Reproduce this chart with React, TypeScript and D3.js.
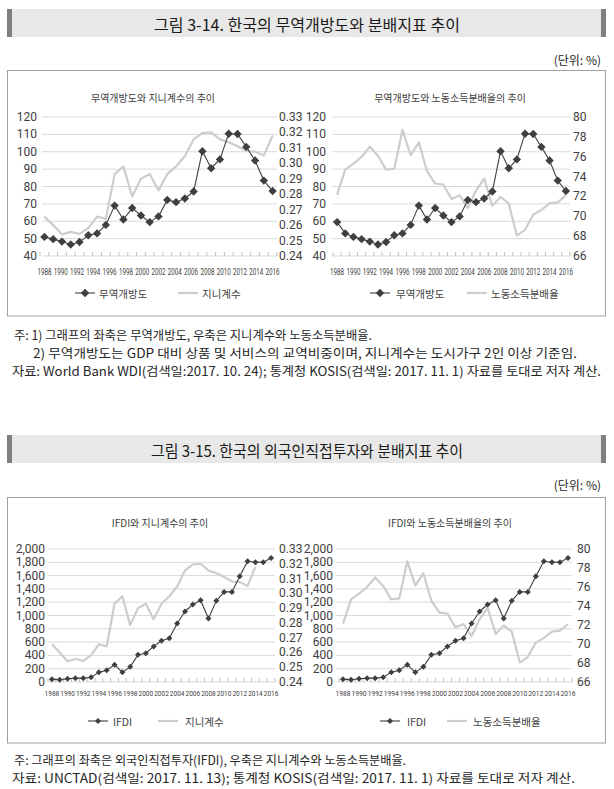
import React from "react";
import * as d3 from "d3";

// ---------- data ----------
const years = ["1988","1989","1990","1991","1992","1993","1994","1995","1996","1997","1998","1999","2000","2001","2002","2003","2004","2005","2006","2007","2008","2009","2010","2011","2012","2013","2014","2015","2016"];
const xTickLabels = ["1988","1990","1992","1994","1996","1998","2000","2002","2004","2006","2008","2010","2012","2014","2016"];

// 무역개방도 (1988-2016)
const tradeOpenness = [59.5, 53.0, 51.0, 49.7, 48.3, 46.6, 48.1, 51.9, 53.0, 57.9, 69.0, 61.0, 67.6, 63.3, 59.5, 62.8, 72.3, 71.0, 73.1, 77.1, 100.3, 90.5, 95.6, 110.4, 110.2, 102.8, 95.0, 83.4, 77.4];
// 무역개방도 as drawn in the left panel (1990-2016)
const tradeOpennessLeft = [51.0, 49.7, 48.3, 46.6, 48.1, 51.9, 53.0, 57.9, 69.0, 61.0, 67.6, 63.3, 59.5, 62.8, 72.3, 71.0, 73.1, 77.1, 100.3, 90.5, 95.6, 110.4, 110.2, 102.8, 95.0, 83.4, 77.4];
// 지니계수 (27 points)
const giniCoefficient = [0.2655, 0.2600, 0.2540, 0.2556, 0.2543, 0.2580, 0.2655, 0.2640, 0.2930, 0.2980, 0.2785, 0.2900, 0.2930, 0.2825, 0.2930, 0.2980, 0.3046, 0.3155, 0.3195, 0.3200, 0.3155, 0.3137, 0.3110, 0.3080, 0.3076, 0.3050, 0.3180];
// 노동소득분배율 (1988-2016)
const laborIncomeShare = [72.15, 74.7, 75.3, 76.0, 77.0, 76.1, 74.7, 74.8, 78.7, 76.15, 77.45, 74.55, 73.3, 73.2, 71.75, 72.1, 70.85, 72.6, 73.8, 71.05, 71.95, 71.3, 68.05, 68.65, 70.15, 70.65, 71.3, 71.4, 72.1];
// IFDI (1988-2016)
const ifdi = [40, 35, 48, 58, 58, 72, 145, 178, 260, 145, 228, 410, 432, 535, 620, 658, 880, 1060, 1165, 1230, 955, 1220, 1355, 1355, 1590, 1815, 1800, 1802, 1865];

const tradeTicks = [40, 50, 60, 70, 80, 90, 100, 110, 120];
const ifdiTicks = [0, 200, 400, 600, 800, 1000, 1200, 1400, 1600, 1800, 2000];
const giniTicks = [0.24, 0.25, 0.26, 0.27, 0.28, 0.29, 0.30, 0.31, 0.32, 0.33];
const laborTicks = [66, 68, 70, 72, 74, 76, 78, 80];

const NUM_FONT = "'Liberation Sans Narrow', 'Arial Narrow', 'Roboto', sans-serif";
const KR_FONT = "'Noto Sans CJK KR', 'Noto Sans', sans-serif";
const DARK = "#3f3f3f";
const LIGHT = "#cdcdcd";
const GRID = "#d9d9d9";
const LABEL = "#404040";

type PanelCfg = {
  x0: number; x1: number; gridX0: number; yTop: number; yBot: number;
  nCats: number;
  leftTicks: number[]; leftFmt: (v: number) => string;
  rightTicks: number[]; rightFmt: (v: number) => string;
  primary: number[]; secondary: number[];
  leftLabelX: number; rightLabelX: number;
  xLabelY: number; xLabelW: number; xLabelFs: number;
  subtitle: string; subX: number; subY: number;
  legendY: number;
  legend: { a: number; b: number; tx: number; label: string; marker: boolean }[];
  markerR: number;
};

function Panel({ c }: { c: PanelCfg }) {
  const band = d3.scaleBand<number>().domain(d3.range(c.nCats)).range([c.x0, c.x1]);
  const cx = (i: number) => (band(i) as number) + band.bandwidth() / 2;
  const yL = d3.scaleLinear().domain([c.leftTicks[0], c.leftTicks[c.leftTicks.length - 1]]).range([c.yBot, c.yTop]);
  const yR = d3.scaleLinear().domain([c.rightTicks[0], c.rightTicks[c.rightTicks.length - 1]]).range([c.yBot, c.yTop]);
  const labelX = d3.scalePoint<string>().domain(xTickLabels).range([cx(0), cx(c.nCats - 1)]);
  const lineL = d3.line<number>().x((_, i) => cx(i)).y((d) => yL(d));
  const lineR = d3.line<number>().x((_, i) => cx(i)).y((d) => yR(d));
  const side = c.markerR * Math.SQRT2;
  const diamond = d3.symbol().type(d3.symbolSquare).size(side * side)() as string;
  const boundaries = d3.range(c.nCats + 1).map((i) => c.x0 + i * band.step());
  return (
    <g>
      <text x={c.subX} y={c.subY} textAnchor="middle" dominantBaseline="central" fontFamily={KR_FONT} fontSize={10} fill={LABEL}>{c.subtitle}</text>
      {c.leftTicks.map((t) => (
        <line key={"g" + t} x1={c.gridX0} x2={c.x1} y1={yL(t)} y2={yL(t)} stroke={GRID} strokeWidth={1} />
      ))}
      {boundaries.map((b, i) => (
        <line key={"tk" + i} x1={b} x2={b} y1={c.yBot - 4} y2={c.yBot} stroke="#bfbfbf" strokeWidth={1} />
      ))}
      <path d={lineR(c.secondary) as string} fill="none" stroke={LIGHT} strokeWidth={2.2} strokeLinejoin="round" />
      <path d={lineL(c.primary) as string} fill="none" stroke={DARK} strokeWidth={1.1} strokeLinejoin="round" />
      {c.primary.map((v, i) => (
        <path key={"m" + i} d={diamond} transform={`translate(${cx(i)},${yL(v)}) rotate(45)`} fill={DARK} />
      ))}
      {c.leftTicks.map((t) => (
        <text key={"l" + t} x={c.leftLabelX} y={yL(t)} textAnchor="end" dominantBaseline="central" fontFamily={NUM_FONT} fontSize={12} fill={LABEL}>{c.leftFmt(t)}</text>
      ))}
      {c.rightTicks.map((t) => (
        <text key={"r" + t} x={c.rightLabelX} y={yR(t)} textAnchor="start" dominantBaseline="central" fontFamily={NUM_FONT} fontSize={12} fill={LABEL}>{c.rightFmt(t)}</text>
      ))}
      {xTickLabels.map((l) => (
        <text key={"x" + l} x={labelX(l)} y={c.xLabelY} textAnchor="middle" dominantBaseline="central" fontFamily={NUM_FONT} fontSize={c.xLabelFs} fill={LABEL} textLength={c.xLabelW} lengthAdjust="spacingAndGlyphs">{l}</text>
      ))}
      {c.legend.map((lg) => (
        <g key={lg.label}>
          <line x1={lg.a} x2={lg.b} y1={c.legendY} y2={c.legendY} stroke={lg.marker ? DARK : LIGHT} strokeWidth={lg.marker ? 1.1 : 2.2} />
          {lg.marker && <path d={diamond} transform={`translate(${(lg.a + lg.b) / 2},${c.legendY}) rotate(45)`} fill={DARK} />}
          <text x={lg.tx} y={c.legendY} dominantBaseline="central" fontFamily={KR_FONT} fontSize={10.5} fill={LABEL}>{lg.label}</text>
        </g>
      ))}
    </g>
  );
}

const fmtInt = (v: number) => String(v);
const fmtComma = d3.format(",");
const fmt2 = d3.format(".2f");

const panels: PanelCfg[] = [
  {
    x0: 40, x1: 277, gridX0: 42, yTop: 117, yBot: 256, nCats: tradeOpennessLeft.length,
    leftTicks: tradeTicks, leftFmt: fmtInt, rightTicks: giniTicks, rightFmt: fmt2,
    primary: tradeOpennessLeft, secondary: giniCoefficient,
    leftLabelX: 37, rightLabelX: 279, xLabelY: 272, xLabelW: 14, xLabelFs: 8.5,
    subtitle: "무역개방도와 지니계수의 추이", subX: 153, subY: 97, legendY: 293,
    legend: [
      { a: 75, b: 95, tx: 99, label: "무역개방도", marker: true },
      { a: 178, b: 198, tx: 202, label: "지니계수", marker: false },
    ],
    markerR: 4.2,
  },
  {
    x0: 333, x1: 570, gridX0: 332, yTop: 117, yBot: 256, nCats: years.length,
    leftTicks: tradeTicks, leftFmt: fmtInt, rightTicks: laborTicks, rightFmt: fmtInt,
    primary: tradeOpenness, secondary: laborIncomeShare,
    leftLabelX: 326, rightLabelX: 573, xLabelY: 272, xLabelW: 14, xLabelFs: 8.5,
    subtitle: "무역개방도와 노동소득분배율의 추이", subX: 450, subY: 97, legendY: 293,
    legend: [
      { a: 370, b: 390, tx: 396, label: "무역개방도", marker: true },
      { a: 467, b: 487, tx: 491, label: "노동소득분배율", marker: false },
    ],
    markerR: 4.2,
  },
  {
    x0: 48, x1: 275, gridX0: 48, yTop: 549, yBot: 682, nCats: years.length,
    leftTicks: ifdiTicks, leftFmt: fmtComma, rightTicks: giniTicks, rightFmt: fmt2,
    primary: ifdi, secondary: giniCoefficient,
    leftLabelX: 45, rightLabelX: 279, xLabelY: 693, xLabelW: 14.6, xLabelFs: 8,
    subtitle: "IFDI와 지니계수의 추이", subX: 160, subY: 522, legendY: 721,
    legend: [
      { a: 88, b: 108, tx: 113, label: "IFDI", marker: true },
      { a: 158, b: 178, tx: 185, label: "지니계수", marker: false },
    ],
    markerR: 3,
  },
  {
    x0: 339, x1: 572, gridX0: 336, yTop: 549, yBot: 682, nCats: years.length,
    leftTicks: ifdiTicks, leftFmt: fmtComma, rightTicks: laborTicks, rightFmt: fmtInt,
    primary: ifdi, secondary: laborIncomeShare,
    leftLabelX: 333, rightLabelX: 577, xLabelY: 693, xLabelW: 15, xLabelFs: 8,
    subtitle: "IFDI와 노동소득분배율의 추이", subX: 450, subY: 522, legendY: 721,
    legend: [
      { a: 380, b: 400, tx: 407, label: "IFDI", marker: true },
      { a: 447, b: 467, tx: 473, label: "노동소득분배율", marker: false },
    ],
    markerR: 3,
  },
];

function TitleBar({ y, text, w }: { y: number; text: string; w: number }) {
  return (
    <g>
      <rect x={7} y={y} width={599} height={28} fill="#e8e8e8" />
      <rect x={7} y={y} width={5} height={28} fill="#7f7f7f" />
      <rect x={601} y={y} width={5} height={28} fill="#7f7f7f" />
      <text x={307} y={y + 14.5} textAnchor="middle" dominantBaseline="central" fontFamily={KR_FONT} fontSize={16} fill="#1a1a1a" textLength={w} lengthAdjust="spacingAndGlyphs">{text}</text>
    </g>
  );
}

function Note({ x, y, w, text }: { x: number; y: number; w: number; text: string }) {
  return (
    <text x={x} y={y} dominantBaseline="central" fontFamily={KR_FONT} fontSize={12.5} fill="#262626" textLength={w} lengthAdjust="spacingAndGlyphs">{text}</text>
  );
}

export default function App() {
  return (
    <svg width={614} height={789} style={{ position: "absolute", left: 0, top: 0, background: "#fff" }}>
      <rect x={0} y={0} width={614} height={789} fill="#fff" />
      <TitleBar y={9} text="그림 3-14. 한국의 무역개방도와 분배지표 추이" w={306} />
      <text x={601} y={59} textAnchor="end" dominantBaseline="central" fontFamily={KR_FONT} fontSize={12} fill="#262626">(단위: %)</text>
      <rect x={7.5} y={70.5} width={598} height={245.5} fill="none" stroke="#a0a0a0" strokeWidth={1} />
      <Panel c={panels[0]} />
      <Panel c={panels[1]} />
      <Note x={14} y={334} w={358} text="주: 1) 그래프의 좌축은 무역개방도, 우축은 지니계수와 노동소득분배율." />
      <Note x={33} y={352} w={544} text="2) 무역개방도는 GDP 대비 상품 및 서비스의 교역비중이며, 지니계수는 도시가구 2인 이상 기준임." />
      <Note x={12} y={370} w={589} text="자료: World Bank WDI(검색일:2017. 10. 24); 통계청 KOSIS(검색일: 2017. 11. 1) 자료를 토대로 저자 계산." />

      <TitleBar y={435} text="그림 3-15. 한국의 외국인직접투자와 분배지표 추이" w={312} />
      <text x={601} y={484} textAnchor="end" dominantBaseline="central" fontFamily={KR_FONT} fontSize={12} fill="#262626">(단위: %)</text>
      <rect x={7.5} y={497.5} width={598} height={245.5} fill="none" stroke="#a0a0a0" strokeWidth={1} />
      <Panel c={panels[2]} />
      <Panel c={panels[3]} />
      <Note x={14} y={759} w={392} text="주: 그래프의 좌축은 외국인직접투자(IFDI), 우축은 지니계수와 노동소득분배율." />
      <Note x={12} y={777} w={563} text="자료: UNCTAD(검색일: 2017. 11. 13); 통계청 KOSIS(검색일: 2017. 11. 1) 자료를 토대로 저자 계산." />
    </svg>
  );
}
